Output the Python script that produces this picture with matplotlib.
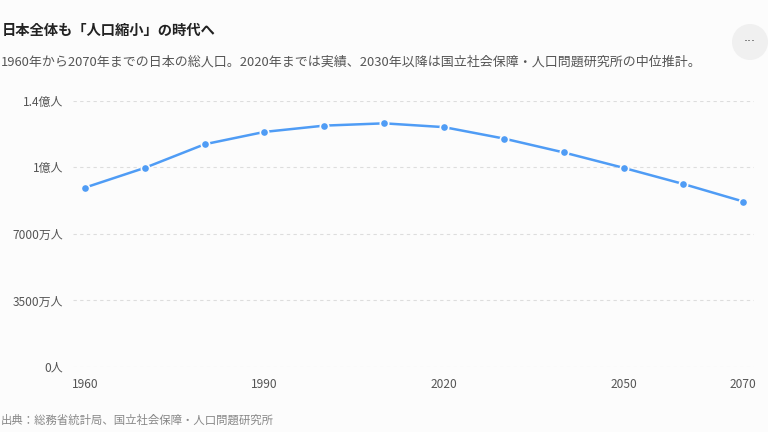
import matplotlib.pyplot as plt
from matplotlib.patches import Ellipse

plt.rcParams['font.family'] = ['Noto Sans CJK JP', 'DejaVu Sans']

# 総人口（百万人）
years = [1960, 1970, 1980, 1990, 2000, 2010, 2020, 2030, 2040, 2050, 2060, 2070]
population = [94.3, 104.7, 117.1, 123.6, 126.9, 128.1, 126.1, 120.1, 112.8, 104.7, 96.2, 87.0]
y_ticks = [0, 35, 70, 105, 140]
y_labels = ['0人', '3500万人', '7000万人', '1億人', '1.4億人']
x_ticks = [1960, 1990, 2020, 2050, 2070]

title = '日本全体も「人口縮小」の時代へ'
subtitle = '1960年から2070年までの日本の総人口。2020年までは実績、2030年以降は国立社会保障・人口問題研究所の中位推計。'
source = '出典：総務省統計局、国立社会保障・人口問題研究所'

bg = '#fcfcfc'
fig = plt.figure(figsize=(7.68, 4.32), dpi=100, facecolor=bg)
ax = fig.add_axes([73 / 768, 1 - 367 / 432, (754 - 73) / 768, (367 - 100.7) / 432])
ax.set_facecolor(bg)

ax.plot(years, population, color='#4f9cf5', lw=1.8, marker='o', ms=6,
        mfc='#4f9cf5', mec=bg, mew=1.2, zorder=3, clip_on=False)

ax.set_xlim(1958, 2071.8)
ax.set_ylim(0, 140)
ax.set_yticks(y_ticks)
ax.set_yticklabels(y_labels)
ax.set_xticks(x_ticks)
ax.set_xticklabels([str(x) for x in x_ticks])
ax.grid(axis='y', color='#dddddd', ls=(0, (3, 3)), lw=0.8)
ax.grid(axis='x', visible=False)
for s in ax.spines.values():
    s.set_visible(False)
ax.tick_params(axis='both', length=0, labelsize=8.6, colors='#555555')
ax.tick_params(axis='y', pad=7)
ax.tick_params(axis='x', pad=8)

fig.text(2 / 768, 1 - 31 / 432, title, fontsize=10.3, fontweight='bold',
         color='#222222', va='center')
fig.text(1 / 768, 1 - 62 / 432, subtitle, fontsize=9.35, color='#555555', va='center')
fig.text(1 / 768, 1 - 420 / 432, source, fontsize=8.2, color='#888888', va='center')

# メニューボタン
circ = Ellipse((750 / 768, 1 - 42 / 432), 36 / 768, 36 / 432,
               transform=fig.transFigure, facecolor='#f0f0f0', edgecolor='none')
fig.patches.append(circ)
fig.text(750 / 768, 1 - 42 / 432, '···', fontsize=9, color='#444444',
         ha='center', va='center', family='DejaVu Sans')

fig.savefig('out.png', dpi=100, facecolor=bg)
